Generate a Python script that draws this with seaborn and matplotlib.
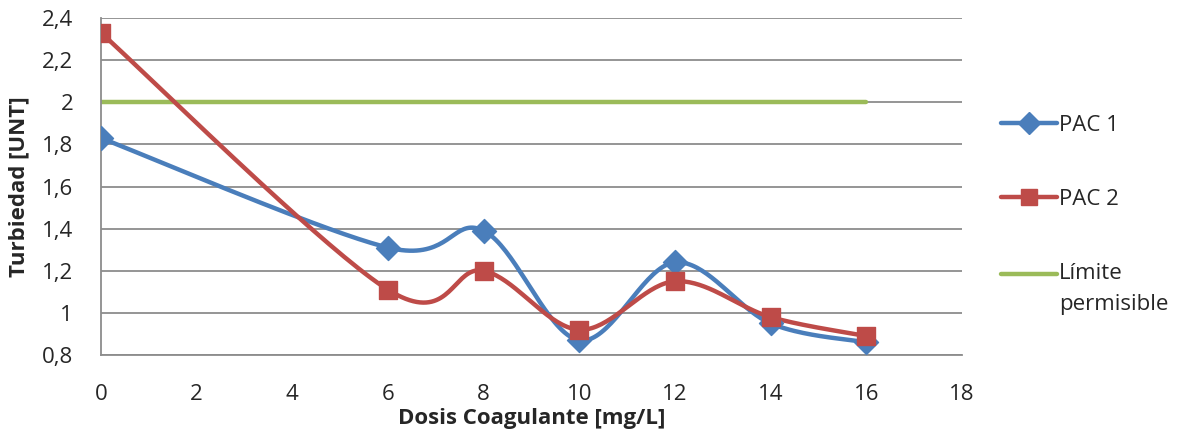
import matplotlib
matplotlib.use("Agg")
import matplotlib.pyplot as plt
import matplotlib.ticker as mticker
from matplotlib.lines import Line2D
import seaborn as sns
import pandas as pd
import numpy as np

dosis = [0, 6, 8, 10, 12, 14, 16]
pac1 = [1.83, 1.31, 1.39, 0.87, 1.24, 0.95, 0.86]
pac2 = [2.33, 1.11, 1.20, 0.92, 1.15, 0.98, 0.89]
limite_x = [0, 16]
limite_y = [2.0, 2.0]

BLUE = "#4A7EBB"
RED = "#BE4B48"
GREEN = "#9BBB59"
GRID = "#8C8C8C"


def smooth(xs, ys, n=40):
    # Excel-style smoothed line: cubic Bezier segments through the points
    p = np.column_stack([xs, ys]).astype(float)
    out = []
    for i in range(len(p) - 1):
        p0 = p[i - 1] if i > 0 else p[i]
        p3 = p[i + 2] if i + 2 < len(p) else p[i + 1]
        c1 = p[i] + (p[i + 1] - p0) / 6
        c2 = p[i + 1] - (p3 - p[i]) / 6
        t = np.linspace(0, 1, n)[:, None]
        seg = ((1 - t) ** 3 * p[i] + 3 * (1 - t) ** 2 * t * c1
               + 3 * (1 - t) * t ** 2 * c2 + t ** 3 * p[i + 1])
        out.append(seg if i == 0 else seg[1:])
    return np.vstack(out)


sns.set_style("white")
plt.rcParams["font.family"] = ["Open Sans", "DejaVu Sans"]

fig = plt.figure(figsize=(11.82, 4.34), dpi=100)
ax = fig.add_axes([0.0854, 0.182, 0.7285, 0.7765])

curves = []
for name, vals in [("PAC 1", pac1), ("PAC 2", pac2)]:
    s = smooth(dosis, vals)
    curves.append(pd.DataFrame({"x": s[:, 0], "y": s[:, 1], "serie": name}))
curve_df = pd.concat(curves, ignore_index=True)
pts = pd.DataFrame({"x": dosis * 2, "y": pac1 + pac2,
                    "serie": ["PAC 1"] * len(dosis) + ["PAC 2"] * len(dosis)})

sns.lineplot(x=limite_x, y=limite_y, color=GREEN, lw=3.2, ax=ax, zorder=2)
sns.lineplot(data=curve_df, x="x", y="y", hue="serie", sort=False,
             palette={"PAC 1": BLUE, "PAC 2": RED}, lw=3.2, ax=ax,
             legend=False, zorder=3, estimator=None)
sns.scatterplot(data=pts[pts.serie == "PAC 1"], x="x", y="y", marker="D",
                color=BLUE, s=150, edgecolor=BLUE, ax=ax, zorder=4)
sns.scatterplot(data=pts[pts.serie == "PAC 2"], x="x", y="y", marker="s",
                color=RED, s=150, edgecolor=RED, ax=ax, zorder=4)

ax.set_xlim(0, 18)
ax.set_ylim(0.8, 2.4)
ax.set_xticks(range(0, 19, 2))
ax.set_yticks(np.arange(0.8, 2.41, 0.2))
ax.yaxis.set_major_formatter(mticker.FuncFormatter(
    lambda v, _: f"{v:.1f}".rstrip("0").rstrip(".").replace(".", ",")))
ax.grid(axis="y", color=GRID, lw=1.3)
ax.set_axisbelow(True)
for side in ["top", "right"]:
    ax.spines[side].set_visible(False)
for side in ["left", "bottom"]:
    ax.spines[side].set_color(GRID)
    ax.spines[side].set_linewidth(1.3)
ax.tick_params(axis="both", which="major", length=6, width=1.3, color=GRID,
               labelsize=16, direction="out")
ax.tick_params(axis="y", pad=14)
ax.tick_params(axis="x", pad=15)
ax.set_xlabel("Dosis Coagulante [mg/L]", fontsize=16, fontweight="bold", labelpad=2)
ax.set_ylabel("Turbiedad [UNT]", fontsize=16, fontweight="bold", labelpad=9)

handles = [
    Line2D([], [], color=BLUE, lw=3.2, marker="D", markersize=11),
    Line2D([], [], color=RED, lw=3.2, marker="s", markersize=11),
    Line2D([], [], color=GREEN, lw=3.2),
]
leg = fig.legend(handles, ["PAC 1", "PAC 2", "Límite\npermisible"],
                 loc="upper left", bbox_to_anchor=(0.83, 0.782), frameon=False,
                 fontsize=16, handlelength=2.5, handletextpad=0.1,
                 labelspacing=2.4)
leg.get_texts()[2].set_linespacing(1.6)
# Excel lines up the handle with the first text line
green_handle = leg.get_lines()[-1]
green_handle.set_ydata(np.asarray(green_handle.get_ydata()) + 11)

fig.savefig("out.png", dpi=100)
